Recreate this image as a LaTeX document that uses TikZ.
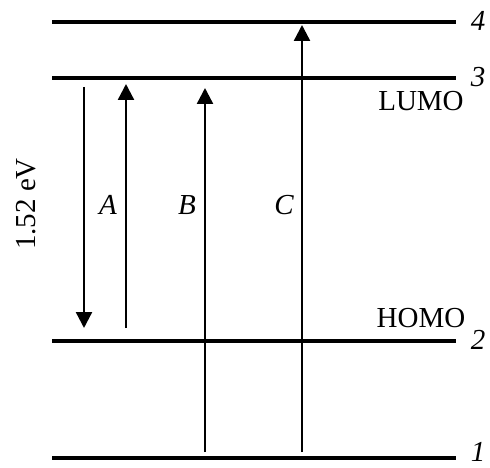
\documentclass[tikz,border=0pt]{standalone}
\usepackage{fontspec}
\setmainfont{Liberation Serif}
\usetikzlibrary{arrows.meta}

\begin{document}
\begin{tikzpicture}[x=1pt,y=-1pt,
    level/.style={line width=4pt},
    trans/.style={line width=2.4pt,-{Triangle[width=16pt,length=16pt]}},
    lbl/.style={font=\fontsize{29}{31}\selectfont},
    ilbl/.style={font=\fontsize{29}{31}\selectfont\itshape}]
  \useasboundingbox (0,0) rectangle (490,468);
  % Energy levels
  \foreach \n/\y/\t in {4/22/21,3/78/77,2/341/340,1/458/452}{
    \draw[level] (52,\y) -- (456,\y);
    \node[ilbl,inner sep=1pt] (lev\n) at (478,\t) {\n};
  }
  \node[lbl] (lumo) at (421,101) {LUMO};
  \node[lbl] (homo) at (421,318) {HOMO};
  \node[lbl,rotate=90] (gap) at (26,204) {1.52 eV};
  % Transitions
  \coordinate (dtop) at (84,87);
  \coordinate (dbot) at (84,328);
  \coordinate (abot) at (126,328);
  \coordinate (atop) at (126,84);
  \coordinate (bbot) at (205,452);
  \coordinate (btop) at (205,88);
  \coordinate (cbot) at (302,452);
  \coordinate (ctop) at (302,25);
  \draw[trans] (dtop) -- (dbot);
  \draw[trans] (abot) -- (atop);
  \draw[trans] (bbot) -- (btop);
  \draw[trans] (cbot) -- (ctop);
  \node[ilbl] (A) at (108,205) {A};
  \node[ilbl] (B) at (187,205) {B};
  \node[ilbl] (C) at (284,205) {C};
\end{tikzpicture}
\end{document}
